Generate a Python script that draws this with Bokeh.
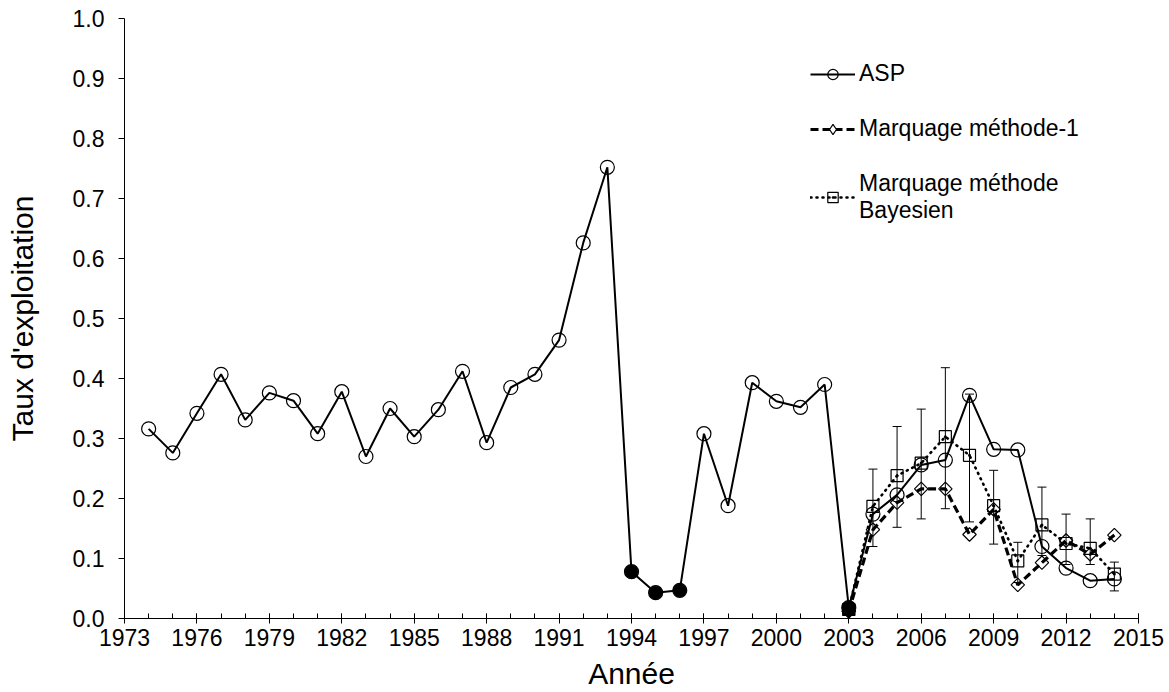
import math

from bokeh.plotting import figure
from bokeh.models import (Range1d, FixedTicker, Legend, LegendItem, Whisker,
                          ColumnDataSource, TeeHead, NumeralTickFormatter)
from bokeh.embed import file_html
from bokeh.resources import INLINE

# --- data ---------------------------------------------------------------
asp_years = list(range(1974, 2015))
asp_values = [0.316, 0.276, 0.342, 0.407, 0.331, 0.376, 0.363, 0.308, 0.378,
              0.270, 0.350, 0.303, 0.348, 0.412, 0.293, 0.385, 0.407, 0.464,
              0.626, 0.752, 0.078, 0.043, 0.047, 0.308, 0.188, 0.393, 0.362,
              0.352, 0.390, 0.018, 0.174, 0.206, 0.256, 0.264, 0.372, 0.282,
              0.281, 0.120, 0.084, 0.063, 0.066]
asp_filled_years = [1994, 1995, 1996, 2003]

tag_years = list(range(2003, 2015))
tag1_values = [0.012, 0.148, 0.193, 0.216, 0.216, 0.140, 0.182, 0.056, 0.093,
               0.130, 0.107, 0.139]
bayes_values = [0.015, 0.187, 0.238, 0.259, 0.303, 0.272, 0.188, 0.096, 0.156,
                0.125, 0.117, 0.074]

err_years = list(range(2004, 2015))
bayes_upper = [0.249, 0.320, 0.349, 0.418, 0.374, 0.247, 0.127, 0.219, 0.174,
               0.166, 0.094]
bayes_lower = [0.120, 0.152, 0.166, 0.183, 0.161, 0.124, 0.060, 0.105, 0.090,
               0.090, 0.046]

x_ticks = list(range(1973, 2016, 3))
y_ticks = [i / 10 for i in range(0, 11)]

FONT = "Liberation Sans"

# --- figure -------------------------------------------------------------
p = figure(width=1169, height=692, output_backend="svg", toolbar_location=None,
           x_range=Range1d(1973, 2015), y_range=Range1d(0, 1.0),
           min_border_left=124, min_border_right=31, min_border_top=18,
           min_border_bottom=74)
p.outline_line_color = None
p.xgrid.visible = False
p.ygrid.visible = False
p.background_fill_color = "white"
p.border_fill_color = "white"

# x axis: crossing major ticks every 3 years, inside minor ticks every year
xa = p.xaxis[0]
xa.ticker = FixedTicker(ticks=x_ticks, minor_ticks=list(range(1973, 2016)))
xa.major_tick_in = 5
xa.major_tick_out = 5
xa.minor_tick_in = 5
xa.minor_tick_out = 0
xa.axis_label = "Année"
xa.major_label_standoff = 5
xa.axis_label_standoff = 8

ya = p.yaxis[0]
ya.ticker = FixedTicker(ticks=y_ticks)
ya.formatter = NumeralTickFormatter(format="0.0")
ya.major_tick_in = 0
ya.major_tick_out = 6
ya.minor_tick_in = 0
ya.minor_tick_out = 0
ya.axis_label = "Taux d'exploitation"
ya.major_label_standoff = 14
ya.axis_label_standoff = 31

for ax in (xa, ya):
    ax.axis_line_color = "black"
    ax.major_tick_line_color = "black"
    ax.minor_tick_line_color = "black"
    ax.major_label_text_font = FONT
    ax.major_label_text_font_size = "23px"
    ax.major_label_text_color = "black"
    ax.axis_label_text_font = FONT
    ax.axis_label_text_font_size = "30px"
    ax.axis_label_text_font_style = "normal"
    ax.axis_label_text_color = "black"

# --- series -------------------------------------------------------------
asp_src = ColumnDataSource(dict(x=asp_years, y=asp_values))
filled_src = ColumnDataSource(dict(
    x=asp_filled_years,
    y=[asp_values[asp_years.index(yr)] for yr in asp_filled_years]))
tag_src = ColumnDataSource(dict(x=tag_years, t1=tag1_values, b=bayes_values))
err_src = ColumnDataSource(dict(x=err_years, up=bayes_upper, lo=bayes_lower))

# error bars of the Bayesian estimate
whisk = Whisker(base="x", upper="up", lower="lo", source=err_src,
                line_color="black", line_width=1,
                upper_head=TeeHead(size=9, line_color="black", line_width=1),
                lower_head=TeeHead(size=9, line_color="black", line_width=1))
p.add_layout(whisk)

asp_line = p.line("x", "y", source=asp_src, line_color="black", line_width=2)
asp_mark = p.scatter("x", "y", source=asp_src, marker="circle", size=14,
                     fill_color=None, line_color="black", line_width=1.2)
p.scatter("x", "y", source=filled_src, marker="circle", size=13,
          fill_color="black", line_color="black")

t1_line = p.line("x", "t1", source=tag_src, line_color="black", line_width=3.2,
                 line_dash="8 4")
# a square turned by 45 degrees gives an equal-sided diamond
p.scatter("x", "t1", source=tag_src, marker="square", size=9.5,
          angle=math.pi / 4, fill_color=None, line_color="black",
          line_width=1.2)
# hidden diamond renderer used only as the legend swatch
t1_key = p.scatter("x", "t1", source=tag_src, marker="diamond", size=16,
                   fill_color="white", line_color="black", line_width=1.2,
                   visible=False)

b_line = p.line("x", "b", source=tag_src, line_color="black", line_width=2.6,
                line_dash="1 5", line_cap="round")
b_mark = p.scatter("x", "b", source=tag_src, marker="square_dot", size=12,
                   fill_color=None, line_color="black", line_width=1.2)

# 2003 starting points drawn solid
p.scatter(x=[tag_years[0]], y=[tag1_values[0]], marker="square", size=9.5,
          angle=math.pi / 4, fill_color="black", line_color="black")
p.scatter(x=[tag_years[0]], y=[bayes_values[0]], marker="square", size=12,
          fill_color="black", line_color="black")

legend = Legend(items=[
    LegendItem(label="ASP", renderers=[asp_line, asp_mark]),
    LegendItem(label="Marquage méthode-1", renderers=[t1_line, t1_key]),
    LegendItem(label="Marquage méthode\nBayesien", renderers=[b_line, b_mark]),
], location=(686, 394), orientation="vertical",
    border_line_color=None, background_fill_alpha=0, padding=0, margin=0,
    spacing=28, glyph_width=45, glyph_height=26, label_height=26,
    label_standoff=4, label_text_font=FONT, label_text_font_size="23px",
    label_text_color="black")
p.add_layout(legend)

open("out.html", "w").write(file_html(p, INLINE))
